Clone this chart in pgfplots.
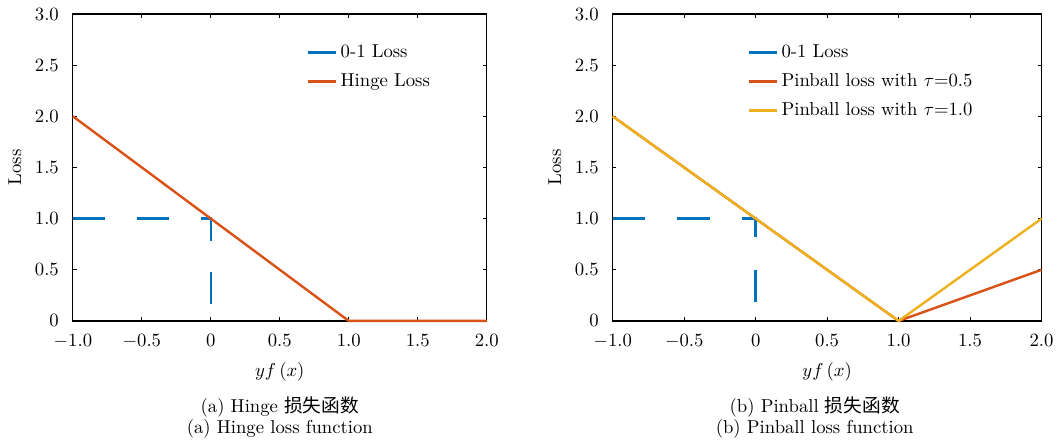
\documentclass[border=0pt]{standalone}
\usepackage{fontspec}
\newfontfamily\cjk{Noto Sans CJK SC}
\usepackage{pgfplots}
\pgfplotsset{compat=1.18}
\definecolor{mblue}{rgb}{0,0.447,0.741}
\definecolor{morange}{rgb}{0.85,0.325,0.098}
\definecolor{myellow}{rgb}{0.929,0.694,0.125}
\pgfplotsset{lossax/.style={scale only axis, height=164.2pt,
  xmin=-1,xmax=2,ymin=0,ymax=3,
  xtick={-1,-0.5,0,0.5,1,1.5,2},
  xticklabels={$-1.0$,$-0.5$,$0$,$0.5$,$1.0$,$1.5$,$2.0$},
  ytick={0,0.5,1,1.5,2,2.5,3},
  yticklabels={$0$,$0.5$,$1.0$,$1.5$,$2.0$,$2.5$,$3.0$},
  xticklabel style={yshift=-3.5pt},
  yticklabel style={xshift=-4pt},
  tick align=inside, major tick length=2pt,
  axis line style={line width=0.6pt},
  every tick/.style={black, line width=0.6pt},
  xlabel={$yf\left(x\right)$}, ylabel={Loss},
  xlabel style={at={(axis description cs:0.5,-0.165)}, anchor=center},
  legend cell align=left,
  legend style={draw=none, fill=none, row sep=3pt, anchor=north west, font=\normalsize},
  legend image code/.code={\draw[#1] (0pt,0pt) -- (15pt,0pt);},
  clip=false,
  every axis plot/.append style={line width=1.3pt},
}}
\begin{document}
\begin{tikzpicture}
\useasboundingbox (-39pt,-64.1pt) rectangle (527pt,171.7pt);
\begin{axis}[lossax, at={(0,0)}, anchor=south west, width=221.4pt,
  ylabel style={at={(axis description cs:-0.14,0.5)}, anchor=center},
  legend style={at={(axis description cs:0.55,0.925)}}]
\addplot[mblue, dash pattern=on 17.1pt off 17.1pt] coordinates {(-1,1) (0,1) (0,0)};
\addlegendentry{0-1 Loss}
\addplot[morange] coordinates {(-1,2) (1,0) (2,0)};
\addlegendentry{Hinge Loss}
\node at (axis description cs:0.5,-0.2795) {(a) Hinge {\cjk 损失函数}};
\node at (axis description cs:0.5,-0.352) {(a) Hinge loss function};
\end{axis}
\begin{axis}[lossax, at={(288.8pt,0)}, anchor=south west, width=229.4pt,
  ylabel style={at={(axis description cs:-0.135,0.5)}, anchor=center},
  legend style={at={(axis description cs:0.30,0.925)}}]
\addplot[mblue, dash pattern=on 17.3pt off 17.3pt] coordinates {(-1,1) (0,1) (0,0)};
\addlegendentry{0-1 Loss}
\addplot[morange] coordinates {(-1,2) (1,0) (2,0.5)};
\addlegendentry{Pinball loss with $\tau$=0.5}
\addplot[myellow] coordinates {(-1,2) (1,0) (2,1)};
\addlegendentry{Pinball loss with $\tau$=1.0}
\node at (axis description cs:0.471,-0.2795) {(b) Pinball {\cjk 损失函数}};
\node at (axis description cs:0.471,-0.352) {(b) Pinball loss function};
\end{axis}
\end{tikzpicture}
\end{document}
